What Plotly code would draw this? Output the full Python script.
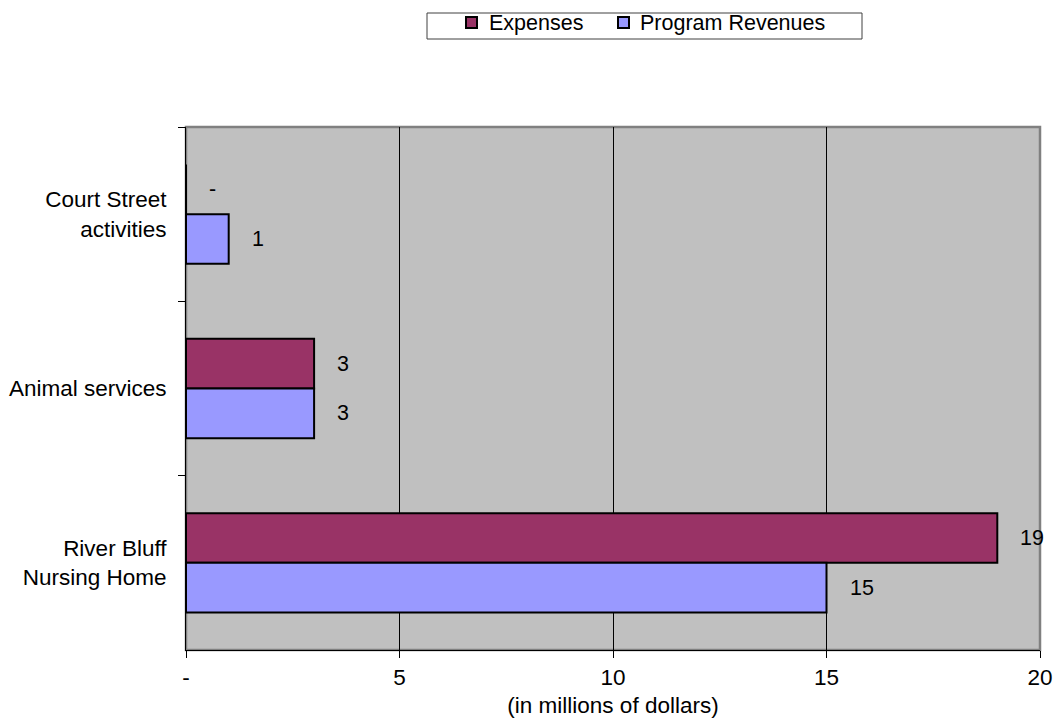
import plotly.graph_objects as go

# Program-level expenses and revenues (in millions of dollars)
categories = ["Court Street<br>activities", "Animal services", "River Bluff<br>Nursing Home"]
expenses = [0, 3, 19]
program_revenues = [1, 3, 15]
series_names = ["Expenses", "Program Revenues"]

x_tick_vals = [0, 5, 10, 15, 20]
x_tick_text = ["-", "5", "10", "15", "20"]

EXP_COLOR = "#993366"
REV_COLOR = "#9999FF"
FAMILY = "Liberation Sans, Arial, sans-serif"
AXIS_FONT = dict(family=FAMILY, size=22.5, color="black")
LABEL_FONT = dict(family=FAMILY, size=21.5, color="black")
LEGEND_FONT = dict(family=FAMILY, size=21.5, color="black")
BARGAP = 0.43

# figure geometry (pixels)
W, H = 1057, 721
ML, MR, MT, MB = 186, 17, 127, 71
PW, PH = W - ML - MR, H - MT - MB


def px_x(x):
    return (x - ML) / PW


def px_y(y):
    return (H - MB - y) / PH


def fmt(v):
    return "-" if v == 0 else f"{v:g}"


fig = go.Figure()
fig.add_trace(go.Bar(
    name=series_names[0], y=categories, x=expenses, orientation="h",
    marker=dict(color=EXP_COLOR, line=dict(color="black", width=2)),
    showlegend=False,
))
fig.add_trace(go.Bar(
    name=series_names[1], y=categories, x=program_revenues, orientation="h",
    marker=dict(color=REV_COLOR, line=dict(color="black", width=2)),
    showlegend=False,
))

# value labels to the right of each bar, centred on the bar
half = (1 - BARGAP) / 4
annotations = []
for i, (e, r) in enumerate(zip(expenses, program_revenues)):
    for val, dy in ((e, -half), (r, half)):
        annotations.append(dict(
            x=val, y=i + dy, xref="x", yref="y", text=fmt(val),
            showarrow=False, xanchor="left", yanchor="middle", xshift=21,
            font=LABEL_FONT,
        ))

shapes = [
    # grey frame on the top and right of the plot area
    dict(type="rect", xref="x domain", yref="y domain", x0=0, x1=1, y0=0, y1=1,
         line=dict(color="#808080", width=2.5), layer="below"),
    # legend box
    dict(type="rect", xref="paper", yref="paper",
         x0=px_x(427), x1=px_x(862), y0=px_y(39), y1=px_y(13),
         line=dict(color="#404040", width=1), fillcolor="white"),
]

# legend entries: swatch + name
for name, color, sx, tx in ((series_names[0], EXP_COLOR, 466, 487),
                            (series_names[1], REV_COLOR, 618, 638)):
    shapes.append(dict(type="rect", xref="paper", yref="paper",
                       x0=px_x(sx), x1=px_x(sx + 11), y0=px_y(28), y1=px_y(17),
                       line=dict(color="black", width=2), fillcolor=color))
    annotations.append(dict(x=px_x(tx), y=px_y(23), xref="paper", yref="paper",
                            text=name, showarrow=False, xanchor="left", yanchor="middle",
                            font=LEGEND_FONT))

fig.update_layout(
    width=W, height=H,
    margin=dict(l=ML, r=MR, t=MT, b=MB, autoexpand=False),
    paper_bgcolor="white", plot_bgcolor="#C0C0C0",
    barmode="group", bargap=BARGAP, bargroupgap=0,
    font=AXIS_FONT,
    showlegend=False,
    annotations=annotations,
    shapes=shapes,
    xaxis=dict(
        range=[0, 20], tickvals=x_tick_vals, ticktext=x_tick_text,
        showgrid=True, gridcolor="black", gridwidth=1,
        showline=True, linecolor="black", linewidth=1,
        ticks="outside", ticklen=7, tickcolor="black",
        zeroline=False, automargin=False,
        title=dict(text="(in millions of dollars)", font=AXIS_FONT, standoff=8),
        tickfont=AXIS_FONT,
    ),
    yaxis=dict(
        type="category", autorange=False, range=[2.5, -0.5],
        showgrid=False, zeroline=False, automargin=False,
        showline=True, linecolor="black", linewidth=1,
        ticks="outside", ticklen=7, tickcolor="black", tickson="boundaries",
        ticklabelstandoff=14,
        tickfont=AXIS_FONT,
    ),
)

fig.write_html("out.html")
